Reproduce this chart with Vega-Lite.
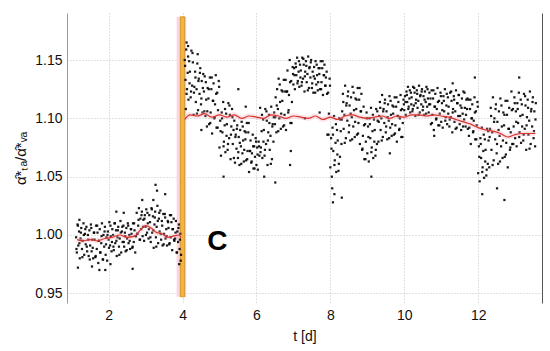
{
"$schema": "https://vega.github.io/schema/vega-lite/v6.json",
"width": 475, "height": 290,
"autosize": {"type": "none"},
"padding": {"left": 67, "top": 13, "right": 8, "bottom": 48},
"background": "white",
"config": {
  "view": {"stroke": null},
  "font": "Liberation Sans",
  "axis": {"labelFont": "Liberation Sans", "titleFont": "Liberation Sans", "labelFontSize": 14, "titleFontSize": 14, "titleFontWeight": "normal", "labelColor": "#111", "titleColor": "#111"}
},
"datasets": {
  "pts": [
{"t":1.12,"v":0.998},{"t":1.14,"v":0.985},{"t":1.16,"v":1.009},{"t":1.18,"v":0.991},{"t":1.20,"v":1.003},{"t":1.22,"v":0.980},{"t":1.24,"v":0.997},{"t":1.26,"v":1.006},{"t":1.28,"v":0.988},{"t":1.30,"v":0.995},{"t":1.32,"v":1.010},{"t":1.34,"v":0.983},{"t":1.36,"v":1.001},{"t":1.38,"v":0.992},{"t":1.40,"v":1.007},{"t":1.42,"v":0.986},{"t":1.44,"v":1.000},{"t":1.46,"v":0.982},{"t":1.48,"v":1.004},
{"t":1.50,"v":0.991},{"t":1.52,"v":1.009},{"t":1.54,"v":0.986},{"t":1.56,"v":0.996},{"t":1.58,"v":0.980},{"t":1.60,"v":1.002},{"t":1.62,"v":0.996},{"t":1.64,"v":0.981},{"t":1.66,"v":1.008},{"t":1.68,"v":0.988},{"t":1.70,"v":1.002},{"t":1.72,"v":0.976},{"t":1.74,"v":0.995},{"t":1.76,"v":1.005},{"t":1.78,"v":0.985},{"t":1.80,"v":0.993},{"t":1.82,"v":1.010},{"t":1.84,"v":0.979},{"t":1.86,"v":1.000},{"t":1.88,"v":0.990},{"t":1.90,"v":1.007},{"t":1.92,"v":0.983},{"t":1.94,"v":0.998},{"t":1.96,"v":0.978},{"t":1.98,"v":1.003},
{"t":2.00,"v":0.996},{"t":2.02,"v":1.011},{"t":2.04,"v":0.991},{"t":2.06,"v":0.999},{"t":2.08,"v":0.986},{"t":2.10,"v":1.005},{"t":2.12,"v":1.000},{"t":2.14,"v":0.987},{"t":2.16,"v":1.010},{"t":2.18,"v":0.993},{"t":2.20,"v":1.004},{"t":2.22,"v":0.982},{"t":2.24,"v":0.998},{"t":2.26,"v":1.007},{"t":2.28,"v":0.990},{"t":2.30,"v":0.997},{"t":2.32,"v":1.012},{"t":2.34,"v":0.985},{"t":2.36,"v":1.003},{"t":2.38,"v":0.994},
{"t":2.40,"v":1.008},{"t":2.42,"v":0.990},{"t":2.44,"v":1.002},{"t":2.46,"v":0.986},{"t":2.48,"v":1.006},{"t":2.50,"v":0.997},{"t":2.52,"v":1.010},{"t":2.54,"v":0.993},{"t":2.56,"v":1.000},{"t":2.58,"v":0.988},{"t":2.60,"v":1.005},{"t":2.62,"v":1.001},{"t":2.64,"v":0.989},{"t":2.66,"v":1.010},{"t":2.68,"v":0.994},{"t":2.70,"v":1.004},{"t":2.72,"v":0.985},{"t":2.74,"v":0.999},
{"t":2.76,"v":1.019},{"t":2.78,"v":1.001},{"t":2.80,"v":1.008},{"t":2.82,"v":1.023},{"t":2.84,"v":0.996},{"t":2.86,"v":1.014},{"t":2.88,"v":1.005},{"t":2.90,"v":1.020},{"t":2.92,"v":0.999},{"t":2.94,"v":1.013},{"t":2.96,"v":0.995},{"t":2.98,"v":1.017},{"t":3.00,"v":1.007},{"t":3.02,"v":1.022},{"t":3.04,"v":1.002},{"t":3.06,"v":1.010},{"t":3.08,"v":0.997},
{"t":3.10,"v":1.017},{"t":3.12,"v":1.011},{"t":3.14,"v":0.994},{"t":3.16,"v":1.023},{"t":3.18,"v":1.002},{"t":3.20,"v":1.016},{"t":3.22,"v":0.989},{"t":3.24,"v":1.009},{"t":3.26,"v":1.020},{"t":3.28,"v":0.998},{"t":3.30,"v":1.007},{"t":3.32,"v":1.025},{"t":3.34,"v":0.993},{"t":3.36,"v":1.014},{"t":3.38,"v":1.003},{"t":3.40,"v":1.021},{"t":3.42,"v":0.996},{"t":3.44,"v":1.012},{"t":3.46,"v":0.991},{"t":3.48,"v":1.018},
{"t":3.50,"v":1.001},{"t":3.52,"v":1.018},{"t":3.54,"v":0.997},{"t":3.56,"v":1.005},{"t":3.58,"v":0.991},{"t":3.60,"v":1.012},{"t":3.62,"v":1.006},{"t":3.64,"v":0.992},{"t":3.66,"v":1.017},{"t":3.68,"v":0.998},{"t":3.70,"v":1.011},{"t":3.72,"v":0.987},{"t":3.74,"v":1.005},{"t":3.76,"v":1.014},{"t":3.78,"v":0.995},
{"t":3.80,"v":0.997},{"t":3.82,"v":1.012},{"t":3.84,"v":0.985},{"t":3.86,"v":1.003},{"t":3.88,"v":0.994},{"t":3.90,"v":1.009},{"t":3.92,"v":0.988},{"t":3.94,"v":1.001},{"t":3.96,"v":0.983},
{"t":1.17,"v":0.972},{"t":1.55,"v":0.973},{"t":1.75,"v":0.970},{"t":2.05,"v":0.975},{"t":2.41,"v":1.019},{"t":2.65,"v":0.971},{"t":3.27,"v":1.043},{"t":3.31,"v":1.038},{"t":3.53,"v":1.035},{"t":3.21,"v":1.030},{"t":1.21,"v":1.013},{"t":2.91,"v":1.030},{"t":3.91,"v":0.975},{"t":3.95,"v":0.978},{"t":2.21,"v":1.020},{"t":1.91,"v":0.970},
{"t":1.13,"v":0.988},{"t":1.17,"v":1.008},{"t":1.21,"v":0.993},{"t":1.25,"v":1.002},{"t":1.29,"v":0.981},{"t":1.33,"v":1.000},{"t":1.37,"v":1.005},{"t":1.41,"v":0.990},{"t":1.45,"v":0.996},
{"t":1.49,"v":0.979},{"t":1.53,"v":1.006},{"t":1.57,"v":0.989},{"t":1.61,"v":1.002},{"t":1.65,"v":0.982},{"t":1.69,"v":1.008},{"t":1.73,"v":0.995},{"t":1.77,"v":0.985},{"t":1.81,"v":0.999},{"t":1.85,"v":0.979},{"t":1.89,"v":1.003},{"t":1.93,"v":0.992},{"t":1.97,"v":1.000},
{"t":2.01,"v":0.989},{"t":2.05,"v":1.008},{"t":2.09,"v":0.994},{"t":2.13,"v":0.990},{"t":2.17,"v":1.010},{"t":2.21,"v":0.995},{"t":2.25,"v":1.004},{"t":2.29,"v":0.983},{"t":2.33,"v":1.002},{"t":2.37,"v":1.007},
{"t":2.41,"v":0.994},{"t":2.45,"v":0.999},{"t":2.49,"v":0.987},{"t":2.53,"v":1.008},{"t":2.57,"v":0.995},{"t":2.61,"v":1.005},{"t":2.65,"v":0.990},{"t":2.69,"v":1.010},{"t":2.73,"v":0.999},
{"t":2.77,"v":1.001},{"t":2.81,"v":1.013},{"t":2.85,"v":0.996},{"t":2.89,"v":1.017},{"t":2.93,"v":1.007},{"t":2.97,"v":1.014},{"t":3.01,"v":1.000},{"t":3.05,"v":1.019},{"t":3.09,"v":1.005},
{"t":3.13,"v":0.998},{"t":3.17,"v":1.022},{"t":3.21,"v":1.004},{"t":3.25,"v":1.015},{"t":3.29,"v":0.990},{"t":3.33,"v":1.012},{"t":3.37,"v":1.019},{"t":3.41,"v":1.001},{"t":3.45,"v":1.008},{"t":3.49,"v":0.992},
{"t":3.53,"v":1.015},{"t":3.57,"v":0.999},{"t":3.61,"v":1.011},{"t":3.65,"v":0.993},{"t":3.69,"v":1.017},{"t":3.73,"v":1.005},{"t":3.77,"v":0.996},
{"t":3.81,"v":1.002},{"t":3.85,"v":0.985},{"t":3.89,"v":1.006},{"t":3.93,"v":0.996},
{"t":4.06,"v":1.150},{"t":4.08,"v":1.133},{"t":4.10,"v":1.159},{"t":4.12,"v":1.125},{"t":4.14,"v":1.139},{"t":4.16,"v":1.116},{"t":4.18,"v":1.149},{"t":4.20,"v":1.140},{"t":4.22,"v":1.118},{"t":4.24,"v":1.158},{"t":4.26,"v":1.128},{"t":4.28,"v":1.148},
{"t":4.30,"v":1.103},{"t":4.32,"v":1.127},{"t":4.34,"v":1.140},{"t":4.36,"v":1.114},{"t":4.38,"v":1.125},{"t":4.40,"v":1.147},{"t":4.42,"v":1.107},{"t":4.44,"v":1.134},{"t":4.46,"v":1.121},{"t":4.48,"v":1.143},{"t":4.50,"v":1.112},{"t":4.52,"v":1.132},{"t":4.54,"v":1.105},{"t":4.56,"v":1.138},{"t":4.58,"v":1.123},
{"t":4.60,"v":1.136},{"t":4.62,"v":1.102},{"t":4.64,"v":1.116},{"t":4.66,"v":1.093},{"t":4.68,"v":1.126},{"t":4.70,"v":1.117},{"t":4.72,"v":1.095},{"t":4.74,"v":1.135},{"t":4.76,"v":1.105},{"t":4.78,"v":1.125},{"t":4.80,"v":1.087},{"t":4.82,"v":1.115},{"t":4.84,"v":1.130},{"t":4.86,"v":1.100},{"t":4.88,"v":1.112},{"t":4.90,"v":1.137},{"t":4.92,"v":1.092},{"t":4.94,"v":1.122},{"t":4.96,"v":1.107},{"t":4.98,"v":1.132},
{"t":5.00,"v":1.075},{"t":5.02,"v":1.098},{"t":5.04,"v":1.068},{"t":5.06,"v":1.105},{"t":5.08,"v":1.088},{"t":5.10,"v":1.114},{"t":5.12,"v":1.080},{"t":5.14,"v":1.094},{"t":5.16,"v":1.071},{"t":5.18,"v":1.104},{"t":5.20,"v":1.095},{"t":5.22,"v":1.073},{"t":5.24,"v":1.113},{"t":5.26,"v":1.083},{"t":5.28,"v":1.103},{"t":5.30,"v":1.065},{"t":5.32,"v":1.093},{"t":5.34,"v":1.108},{"t":5.36,"v":1.078},{"t":5.38,"v":1.090},
{"t":5.40,"v":1.098},{"t":5.42,"v":1.062},{"t":5.44,"v":1.086},{"t":5.46,"v":1.074},{"t":5.48,"v":1.094},{"t":5.50,"v":1.066},{"t":5.52,"v":1.084},{"t":5.54,"v":1.060},{"t":5.56,"v":1.090},{"t":5.58,"v":1.076},{"t":5.60,"v":1.097},{"t":5.62,"v":1.070},{"t":5.64,"v":1.081},{"t":5.66,"v":1.063},{"t":5.68,"v":1.089},{"t":5.70,"v":1.082},{"t":5.72,"v":1.064},{"t":5.74,"v":1.096},{"t":5.76,"v":1.072},{"t":5.78,"v":1.088},
{"t":5.80,"v":1.054},{"t":5.82,"v":1.072},{"t":5.84,"v":1.081},{"t":5.86,"v":1.062},{"t":5.88,"v":1.070},{"t":5.90,"v":1.086},{"t":5.92,"v":1.057},{"t":5.94,"v":1.076},{"t":5.96,"v":1.067},{"t":5.98,"v":1.083},{"t":6.00,"v":1.060},{"t":6.02,"v":1.075},{"t":6.04,"v":1.056},{"t":6.06,"v":1.080},{"t":6.08,"v":1.068},
{"t":6.10,"v":1.109},{"t":6.12,"v":1.075},{"t":6.14,"v":1.089},{"t":6.16,"v":1.066},{"t":6.18,"v":1.099},{"t":6.20,"v":1.090},{"t":6.22,"v":1.068},{"t":6.24,"v":1.108},{"t":6.26,"v":1.078},{"t":6.28,"v":1.098},{"t":6.30,"v":1.060},{"t":6.32,"v":1.088},{"t":6.34,"v":1.103},{"t":6.36,"v":1.073},{"t":6.38,"v":1.085},{"t":6.40,"v":1.110},{"t":6.42,"v":1.065},{"t":6.44,"v":1.095},{"t":6.46,"v":1.080},{"t":6.48,"v":1.105},
{"t":6.50,"v":1.095},{"t":6.52,"v":1.118},{"t":6.54,"v":1.088},{"t":6.56,"v":1.125},{"t":6.58,"v":1.108},{"t":6.60,"v":1.134},{"t":6.62,"v":1.100},{"t":6.64,"v":1.114},{"t":6.66,"v":1.091},{"t":6.68,"v":1.124},{"t":6.70,"v":1.115},{"t":6.72,"v":1.093},{"t":6.74,"v":1.133},{"t":6.76,"v":1.103},{"t":6.78,"v":1.123},
{"t":6.80,"v":1.090},{"t":6.82,"v":1.123},{"t":6.84,"v":1.141},{"t":6.86,"v":1.105},{"t":6.88,"v":1.120},{"t":6.90,"v":1.150},{"t":6.92,"v":1.096},{"t":6.94,"v":1.132},{"t":6.96,"v":1.114},{"t":6.98,"v":1.144},
{"t":7.00,"v":1.129},{"t":7.02,"v":1.143},{"t":7.04,"v":1.125},{"t":7.06,"v":1.147},{"t":7.08,"v":1.137},{"t":7.10,"v":1.152},{"t":7.12,"v":1.132},{"t":7.14,"v":1.140},{"t":7.16,"v":1.127},{"t":7.18,"v":1.146},{"t":7.20,"v":1.141},{"t":7.22,"v":1.128},{"t":7.24,"v":1.152},{"t":7.26,"v":1.134},{"t":7.28,"v":1.146},{"t":7.30,"v":1.123},{"t":7.32,"v":1.140},{"t":7.34,"v":1.149},{"t":7.36,"v":1.131},{"t":7.38,"v":1.138},{"t":7.40,"v":1.153},{"t":7.42,"v":1.126},{"t":7.44,"v":1.144},{"t":7.46,"v":1.135},{"t":7.48,"v":1.150},
{"t":7.50,"v":1.126},{"t":7.52,"v":1.140},{"t":7.54,"v":1.122},{"t":7.56,"v":1.144},{"t":7.58,"v":1.134},{"t":7.60,"v":1.149},{"t":7.62,"v":1.129},{"t":7.64,"v":1.137},{"t":7.66,"v":1.124},{"t":7.68,"v":1.143},{"t":7.70,"v":1.138},{"t":7.72,"v":1.125},{"t":7.74,"v":1.149},{"t":7.76,"v":1.131},{"t":7.78,"v":1.143},{"t":7.80,"v":1.120},{"t":7.82,"v":1.137},{"t":7.84,"v":1.146},{"t":7.86,"v":1.128},{"t":7.88,"v":1.135},
{"t":7.90,"v":1.140},{"t":7.92,"v":1.086},{"t":7.94,"v":1.122},{"t":7.96,"v":1.104},{"t":7.98,"v":1.134},
{"t":8.00,"v":1.058},{"t":8.02,"v":1.083},{"t":8.04,"v":1.050},{"t":8.06,"v":1.092},{"t":8.08,"v":1.072},{"t":8.10,"v":1.102},{"t":8.12,"v":1.064},{"t":8.14,"v":1.079},{"t":8.16,"v":1.054},{"t":8.18,"v":1.090},{"t":8.20,"v":1.081},{"t":8.22,"v":1.055},{"t":8.24,"v":1.100},{"t":8.26,"v":1.067},{"t":8.28,"v":1.089},
{"t":8.30,"v":1.078},{"t":8.32,"v":1.106},{"t":8.34,"v":1.121},{"t":8.36,"v":1.091},{"t":8.38,"v":1.103},{"t":8.40,"v":1.128},{"t":8.42,"v":1.083},{"t":8.44,"v":1.113},{"t":8.46,"v":1.098},{"t":8.48,"v":1.123},{"t":8.50,"v":1.088},{"t":8.52,"v":1.111},{"t":8.54,"v":1.081},{"t":8.56,"v":1.118},{"t":8.58,"v":1.101},{"t":8.60,"v":1.127},{"t":8.62,"v":1.093},{"t":8.64,"v":1.107},{"t":8.66,"v":1.084},{"t":8.68,"v":1.117},{"t":8.70,"v":1.108},{"t":8.72,"v":1.086},{"t":8.74,"v":1.126},{"t":8.76,"v":1.096},{"t":8.78,"v":1.116},{"t":8.80,"v":1.078},{"t":8.82,"v":1.106},{"t":8.84,"v":1.121},
{"t":8.86,"v":1.073},{"t":8.88,"v":1.085},{"t":8.90,"v":1.110},{"t":8.92,"v":1.065},{"t":8.94,"v":1.095},{"t":8.96,"v":1.080},{"t":8.98,"v":1.105},{"t":9.00,"v":1.070},{"t":9.02,"v":1.093},{"t":9.04,"v":1.063},{"t":9.06,"v":1.100},{"t":9.08,"v":1.083},{"t":9.10,"v":1.109},{"t":9.12,"v":1.075},{"t":9.14,"v":1.089},{"t":9.16,"v":1.066},{"t":9.18,"v":1.099},{"t":9.20,"v":1.090},{"t":9.22,"v":1.068},{"t":9.24,"v":1.108},{"t":9.26,"v":1.078},{"t":9.28,"v":1.098},
{"t":9.30,"v":1.080},{"t":9.32,"v":1.102},{"t":9.34,"v":1.114},{"t":9.36,"v":1.090},{"t":9.38,"v":1.100},{"t":9.40,"v":1.120},{"t":9.42,"v":1.084},{"t":9.44,"v":1.108},{"t":9.46,"v":1.096},{"t":9.48,"v":1.116},{"t":9.50,"v":1.088},{"t":9.52,"v":1.106},{"t":9.54,"v":1.082},{"t":9.56,"v":1.112},{"t":9.58,"v":1.098},{"t":9.60,"v":1.119},{"t":9.62,"v":1.092},{"t":9.64,"v":1.103},{"t":9.66,"v":1.085},{"t":9.68,"v":1.111},{"t":9.70,"v":1.104},{"t":9.72,"v":1.086},{"t":9.74,"v":1.118},{"t":9.76,"v":1.094},{"t":9.78,"v":1.110},{"t":9.80,"v":1.080},{"t":9.82,"v":1.102},{"t":9.84,"v":1.114},{"t":9.86,"v":1.090},{"t":9.88,"v":1.100},{"t":9.90,"v":1.120},{"t":9.92,"v":1.084},{"t":9.94,"v":1.108},{"t":9.96,"v":1.096},{"t":9.98,"v":1.116},
{"t":10.00,"v":1.107},{"t":10.02,"v":1.119},{"t":10.04,"v":1.103},{"t":10.06,"v":1.123},{"t":10.08,"v":1.114},{"t":10.10,"v":1.127},{"t":10.12,"v":1.110},{"t":10.14,"v":1.117},{"t":10.16,"v":1.105},{"t":10.18,"v":1.122},{"t":10.20,"v":1.118},{"t":10.22,"v":1.106},{"t":10.24,"v":1.127},{"t":10.26,"v":1.111},{"t":10.28,"v":1.122},{"t":10.30,"v":1.102},{"t":10.32,"v":1.116},{"t":10.34,"v":1.124},{"t":10.36,"v":1.109},{"t":10.38,"v":1.115},{"t":10.40,"v":1.128},{"t":10.42,"v":1.105},{"t":10.44,"v":1.120},{"t":10.46,"v":1.112},{"t":10.48,"v":1.125},{"t":10.50,"v":1.107},{"t":10.52,"v":1.119},{"t":10.54,"v":1.103},{"t":10.56,"v":1.123},{"t":10.58,"v":1.114},{"t":10.60,"v":1.127},{"t":10.62,"v":1.110},{"t":10.64,"v":1.117},{"t":10.66,"v":1.105},{"t":10.68,"v":1.122},
{"t":10.70,"v":1.112},{"t":10.72,"v":1.095},{"t":10.74,"v":1.124},{"t":10.76,"v":1.103},{"t":10.78,"v":1.117},{"t":10.80,"v":1.090},{"t":10.82,"v":1.110},{"t":10.84,"v":1.121},{"t":10.86,"v":1.099},{"t":10.88,"v":1.108},{"t":10.90,"v":1.126},{"t":10.92,"v":1.094},{"t":10.94,"v":1.115},{"t":10.96,"v":1.104},{"t":10.98,"v":1.122},{"t":11.00,"v":1.097},{"t":11.02,"v":1.113},{"t":11.04,"v":1.092},{"t":11.06,"v":1.119},{"t":11.08,"v":1.106},{"t":11.10,"v":1.125},{"t":11.12,"v":1.101},{"t":11.14,"v":1.111},{"t":11.16,"v":1.095},{"t":11.18,"v":1.118},
{"t":11.20,"v":1.110},{"t":11.22,"v":1.093},{"t":11.24,"v":1.122},{"t":11.26,"v":1.101},{"t":11.28,"v":1.115},{"t":11.30,"v":1.088},{"t":11.32,"v":1.108},{"t":11.34,"v":1.119},{"t":11.36,"v":1.097},{"t":11.38,"v":1.106},{"t":11.40,"v":1.124},{"t":11.42,"v":1.092},{"t":11.44,"v":1.113},{"t":11.46,"v":1.102},{"t":11.48,"v":1.120},{"t":11.50,"v":1.095},{"t":11.52,"v":1.111},{"t":11.54,"v":1.090},{"t":11.56,"v":1.117},{"t":11.58,"v":1.104},{"t":11.60,"v":1.123},{"t":11.62,"v":1.099},{"t":11.64,"v":1.109},{"t":11.66,"v":1.093},{"t":11.68,"v":1.116},{"t":11.70,"v":1.108},{"t":11.72,"v":1.091},
{"t":11.74,"v":1.116},{"t":11.76,"v":1.092},{"t":11.78,"v":1.108},{"t":11.80,"v":1.078},{"t":11.82,"v":1.100},{"t":11.84,"v":1.112},{"t":11.86,"v":1.088},{"t":11.88,"v":1.098},{"t":11.90,"v":1.118},{"t":11.92,"v":1.082},{"t":11.94,"v":1.106},{"t":11.96,"v":1.094},{"t":11.98,"v":1.114},
{"t":12.00,"v":1.053},{"t":12.02,"v":1.076},{"t":12.04,"v":1.046},{"t":12.06,"v":1.083},{"t":12.08,"v":1.066},{"t":12.10,"v":1.092},{"t":12.12,"v":1.058},{"t":12.14,"v":1.072},{"t":12.16,"v":1.049},{"t":12.18,"v":1.082},{"t":12.20,"v":1.073},{"t":12.22,"v":1.051},{"t":12.24,"v":1.091},{"t":12.26,"v":1.061},{"t":12.28,"v":1.081},
{"t":12.30,"v":1.058},{"t":12.32,"v":1.091},{"t":12.34,"v":1.109},{"t":12.36,"v":1.073},{"t":12.38,"v":1.088},{"t":12.40,"v":1.118},{"t":12.42,"v":1.064},{"t":12.44,"v":1.100},{"t":12.46,"v":1.082},{"t":12.48,"v":1.112},{"t":12.50,"v":1.070},{"t":12.52,"v":1.097},{"t":12.54,"v":1.061},{"t":12.56,"v":1.106},{"t":12.58,"v":1.085},{"t":12.60,"v":1.117},{"t":12.62,"v":1.076},{"t":12.64,"v":1.093},{"t":12.66,"v":1.066},{"t":12.68,"v":1.105},{"t":12.70,"v":1.094},{"t":12.72,"v":1.067},{"t":12.74,"v":1.115},{"t":12.76,"v":1.079},{"t":12.78,"v":1.103},{"t":12.80,"v":1.058},{"t":12.82,"v":1.091},{"t":12.84,"v":1.109},{"t":12.86,"v":1.073},{"t":12.88,"v":1.088},
{"t":12.90,"v":1.123},{"t":12.92,"v":1.078},{"t":12.94,"v":1.108},{"t":12.96,"v":1.093},{"t":12.98,"v":1.118},{"t":13.00,"v":1.083},{"t":13.02,"v":1.106},{"t":13.04,"v":1.076},{"t":13.06,"v":1.113},{"t":13.08,"v":1.096},{"t":13.10,"v":1.122},{"t":13.12,"v":1.088},{"t":13.14,"v":1.102},{"t":13.16,"v":1.079},{"t":13.18,"v":1.112},{"t":13.20,"v":1.103},{"t":13.22,"v":1.081},{"t":13.24,"v":1.121},{"t":13.26,"v":1.091},{"t":13.28,"v":1.111},{"t":13.30,"v":1.073},{"t":13.32,"v":1.101},{"t":13.34,"v":1.116},{"t":13.36,"v":1.086},{"t":13.38,"v":1.098},{"t":13.40,"v":1.123},{"t":13.42,"v":1.078},{"t":13.44,"v":1.108},{"t":13.46,"v":1.093},{"t":13.48,"v":1.118},{"t":13.50,"v":1.083},{"t":13.52,"v":1.106},{"t":13.54,"v":1.076},{"t":13.56,"v":1.113},
{"t":4.11,"v":1.165},{"t":4.15,"v":1.162},{"t":4.09,"v":1.108},{"t":5.11,"v":1.050},{"t":5.51,"v":1.125},{"t":6.51,"v":1.045},{"t":7.71,"v":1.105},{"t":8.05,"v":1.040},{"t":8.11,"v":1.035},{"t":8.31,"v":1.032},{"t":9.61,"v":1.070},{"t":11.31,"v":1.130},{"t":11.91,"v":1.135},{"t":12.11,"v":1.035},{"t":12.51,"v":1.040},{"t":12.71,"v":1.030},{"t":13.11,"v":1.135},{"t":6.21,"v":1.050},{"t":5.71,"v":1.110},{"t":9.11,"v":1.050},{"t":10.81,"v":1.085},{"t":7.31,"v":1.100},{"t":4.51,"v":1.090},{"t":4.41,"v":1.155},{"t":6.91,"v":1.060},{"t":6.93,"v":1.072},{"t":8.07,"v":1.028},
{"t":4.07,"v":1.145},{"t":4.11,"v":1.121},{"t":4.15,"v":1.153},{"t":4.19,"v":1.130},{"t":4.23,"v":1.123},{"t":4.27,"v":1.156},
{"t":4.31,"v":1.122},{"t":4.35,"v":1.135},{"t":4.39,"v":1.104},{"t":4.43,"v":1.132},{"t":4.47,"v":1.139},{"t":4.51,"v":1.117},{"t":4.55,"v":1.126},{"t":4.59,"v":1.106},
{"t":4.63,"v":1.131},{"t":4.67,"v":1.106},{"t":4.71,"v":1.125},{"t":4.75,"v":1.096},{"t":4.79,"v":1.135},{"t":4.83,"v":1.115},{"t":4.87,"v":1.101},{"t":4.91,"v":1.121},{"t":4.95,"v":1.092},{"t":4.99,"v":1.127},
{"t":5.03,"v":1.089},{"t":5.07,"v":1.100},{"t":5.11,"v":1.076},{"t":5.15,"v":1.108},{"t":5.19,"v":1.085},{"t":5.23,"v":1.078},{"t":5.27,"v":1.111},{"t":5.31,"v":1.086},{"t":5.35,"v":1.101},{"t":5.39,"v":1.066},
{"t":5.43,"v":1.084},{"t":5.47,"v":1.091},{"t":5.51,"v":1.071},{"t":5.55,"v":1.079},{"t":5.59,"v":1.061},{"t":5.63,"v":1.093},{"t":5.67,"v":1.073},{"t":5.71,"v":1.088},{"t":5.75,"v":1.065},{"t":5.79,"v":1.096},
{"t":5.83,"v":1.072},{"t":5.87,"v":1.063},{"t":5.91,"v":1.076},{"t":5.95,"v":1.057},{"t":5.99,"v":1.080},{"t":6.03,"v":1.069},{"t":6.07,"v":1.076},
{"t":6.11,"v":1.071},{"t":6.15,"v":1.103},{"t":6.19,"v":1.080},{"t":6.23,"v":1.073},{"t":6.27,"v":1.106},{"t":6.31,"v":1.081},{"t":6.35,"v":1.096},{"t":6.39,"v":1.061},{"t":6.43,"v":1.093},{"t":6.47,"v":1.101},
{"t":6.51,"v":1.101},{"t":6.55,"v":1.111},{"t":6.59,"v":1.089},{"t":6.63,"v":1.129},{"t":6.67,"v":1.104},{"t":6.71,"v":1.123},{"t":6.75,"v":1.094},{"t":6.79,"v":1.133},
{"t":6.83,"v":1.123},{"t":6.87,"v":1.107},{"t":6.91,"v":1.131},{"t":6.95,"v":1.096},{"t":6.99,"v":1.138},
{"t":7.03,"v":1.137},{"t":7.07,"v":1.144},{"t":7.11,"v":1.130},{"t":7.15,"v":1.149},{"t":7.19,"v":1.135},{"t":7.23,"v":1.131},{"t":7.27,"v":1.151},{"t":7.31,"v":1.136},{"t":7.35,"v":1.145},{"t":7.39,"v":1.124},{"t":7.43,"v":1.143},{"t":7.47,"v":1.148},
{"t":7.51,"v":1.130},{"t":7.55,"v":1.136},{"t":7.59,"v":1.122},{"t":7.63,"v":1.146},{"t":7.67,"v":1.131},{"t":7.71,"v":1.143},{"t":7.75,"v":1.125},{"t":7.79,"v":1.149},{"t":7.83,"v":1.137},{"t":7.87,"v":1.128},
{"t":7.91,"v":1.121},{"t":7.95,"v":1.086},{"t":7.99,"v":1.128},
{"t":8.03,"v":1.074},{"t":8.07,"v":1.086},{"t":8.11,"v":1.060},{"t":8.15,"v":1.095},{"t":8.19,"v":1.069},{"t":8.23,"v":1.061},{"t":8.27,"v":1.099},
{"t":8.31,"v":1.099},{"t":8.35,"v":1.114},{"t":8.39,"v":1.079},{"t":8.43,"v":1.111},{"t":8.47,"v":1.119},{"t":8.51,"v":1.094},{"t":8.55,"v":1.104},{"t":8.59,"v":1.082},{"t":8.63,"v":1.122},{"t":8.67,"v":1.097},{"t":8.71,"v":1.116},{"t":8.75,"v":1.087},{"t":8.79,"v":1.126},{"t":8.83,"v":1.106},
{"t":8.87,"v":1.074},{"t":8.91,"v":1.094},{"t":8.95,"v":1.065},{"t":8.99,"v":1.100},{"t":9.03,"v":1.084},{"t":9.07,"v":1.095},{"t":9.11,"v":1.071},{"t":9.15,"v":1.103},{"t":9.19,"v":1.080},{"t":9.23,"v":1.073},{"t":9.27,"v":1.106},
{"t":9.31,"v":1.097},{"t":9.35,"v":1.109},{"t":9.39,"v":1.081},{"t":9.43,"v":1.106},{"t":9.47,"v":1.113},{"t":9.51,"v":1.093},{"t":9.55,"v":1.101},{"t":9.59,"v":1.083},{"t":9.63,"v":1.115},{"t":9.67,"v":1.095},{"t":9.71,"v":1.110},{"t":9.75,"v":1.087},{"t":9.79,"v":1.118},{"t":9.83,"v":1.102},{"t":9.87,"v":1.091},{"t":9.91,"v":1.107},{"t":9.95,"v":1.084},{"t":9.99,"v":1.112},
{"t":10.03,"v":1.114},{"t":10.07,"v":1.120},{"t":10.11,"v":1.108},{"t":10.15,"v":1.124},{"t":10.19,"v":1.112},{"t":10.23,"v":1.108},{"t":10.27,"v":1.126},{"t":10.31,"v":1.113},{"t":10.35,"v":1.121},{"t":10.39,"v":1.103},{"t":10.43,"v":1.119},{"t":10.47,"v":1.123},{"t":10.51,"v":1.110},{"t":10.55,"v":1.116},{"t":10.59,"v":1.104},{"t":10.63,"v":1.125},{"t":10.67,"v":1.112},
{"t":10.71,"v":1.117},{"t":10.75,"v":1.096},{"t":10.79,"v":1.124},{"t":10.83,"v":1.110},{"t":10.87,"v":1.100},{"t":10.91,"v":1.114},{"t":10.95,"v":1.094},{"t":10.99,"v":1.119},{"t":11.03,"v":1.107},{"t":11.07,"v":1.115},{"t":11.11,"v":1.098},{"t":11.15,"v":1.121},{"t":11.19,"v":1.104},{"t":11.23,"v":1.099},{"t":11.27,"v":1.123},{"t":11.31,"v":1.105},{"t":11.35,"v":1.116},{"t":11.39,"v":1.091},{"t":11.43,"v":1.113},{"t":11.47,"v":1.120},{"t":11.51,"v":1.102},{"t":11.55,"v":1.109},{"t":11.59,"v":1.093},{"t":11.63,"v":1.122},{"t":11.67,"v":1.103},{"t":11.71,"v":1.117},
{"t":11.75,"v":1.085},{"t":11.79,"v":1.116},{"t":11.83,"v":1.100},{"t":11.87,"v":1.089},{"t":11.91,"v":1.105},{"t":11.95,"v":1.082},{"t":11.99,"v":1.110},
{"t":12.03,"v":1.067},{"t":12.07,"v":1.078},{"t":12.11,"v":1.054},{"t":12.15,"v":1.086},{"t":12.19,"v":1.063},{"t":12.23,"v":1.056},{"t":12.27,"v":1.089},
{"t":12.31,"v":1.084},{"t":12.35,"v":1.102},{"t":12.39,"v":1.060},{"t":12.43,"v":1.097},{"t":12.47,"v":1.108},{"t":12.51,"v":1.078},{"t":12.55,"v":1.090},{"t":12.59,"v":1.063},{"t":12.63,"v":1.111},{"t":12.67,"v":1.081},{"t":12.71,"v":1.103},{"t":12.75,"v":1.069},{"t":12.79,"v":1.115},{"t":12.83,"v":1.091},{"t":12.87,"v":1.075},
{"t":12.91,"v":1.107},{"t":12.95,"v":1.078},{"t":12.99,"v":1.113},{"t":13.03,"v":1.097},{"t":13.07,"v":1.108},{"t":13.11,"v":1.084},{"t":13.15,"v":1.116},{"t":13.19,"v":1.093},{"t":13.23,"v":1.086},{"t":13.27,"v":1.119},{"t":13.31,"v":1.094},{"t":13.35,"v":1.109},{"t":13.39,"v":1.074},{"t":13.43,"v":1.106},{"t":13.47,"v":1.114},{"t":13.51,"v":1.089},{"t":13.55,"v":1.099}
  ],
  "fit": [
{"seg":"a","t":1.15,"v":0.996},{"seg":"a","t":1.3,"v":0.995},{"seg":"a","t":1.5,"v":0.996},{"seg":"a","t":1.7,"v":0.995},{"seg":"a","t":1.9,"v":0.997},{"seg":"a","t":2.1,"v":0.998},{"seg":"a","t":2.3,"v":1.000},{"seg":"a","t":2.5,"v":0.998},{"seg":"a","t":2.7,"v":0.999},{"seg":"a","t":2.85,"v":1.004},{"seg":"a","t":3.0,"v":1.008},{"seg":"a","t":3.15,"v":1.006},{"seg":"a","t":3.3,"v":1.002},{"seg":"a","t":3.45,"v":1.001},{"seg":"a","t":3.6,"v":0.998},{"seg":"a","t":3.75,"v":0.999},{"seg":"a","t":3.9,"v":1.000},{"seg":"a","t":3.96,"v":0.998},
{"seg":"b","t":4.06,"v":1.099},{"seg":"b","t":4.2,"v":1.103},{"seg":"b","t":4.4,"v":1.102},{"seg":"b","t":4.6,"v":1.104},{"seg":"b","t":4.8,"v":1.101},{"seg":"b","t":5.0,"v":1.103},{"seg":"b","t":5.2,"v":1.101},{"seg":"b","t":5.4,"v":1.103},{"seg":"b","t":5.6,"v":1.100},{"seg":"b","t":5.8,"v":1.102},{"seg":"b","t":6.0,"v":1.101},{"seg":"b","t":6.2,"v":1.100},{"seg":"b","t":6.4,"v":1.103},{"seg":"b","t":6.6,"v":1.102},{"seg":"b","t":6.8,"v":1.100},{"seg":"b","t":7.0,"v":1.102},{"seg":"b","t":7.2,"v":1.101},{"seg":"b","t":7.4,"v":1.100},{"seg":"b","t":7.6,"v":1.102},{"seg":"b","t":7.8,"v":1.099},{"seg":"b","t":8.0,"v":1.101},{"seg":"b","t":8.2,"v":1.099},{"seg":"b","t":8.4,"v":1.102},{"seg":"b","t":8.6,"v":1.103},{"seg":"b","t":8.8,"v":1.101},{"seg":"b","t":9.0,"v":1.100},{"seg":"b","t":9.2,"v":1.101},{"seg":"b","t":9.4,"v":1.102},{"seg":"b","t":9.6,"v":1.100},{"seg":"b","t":9.8,"v":1.102},{"seg":"b","t":10.0,"v":1.101},{"seg":"b","t":10.2,"v":1.103},{"seg":"b","t":10.4,"v":1.103},{"seg":"b","t":10.6,"v":1.102},{"seg":"b","t":10.8,"v":1.103},{"seg":"b","t":11.0,"v":1.102},{"seg":"b","t":11.2,"v":1.101},{"seg":"b","t":11.4,"v":1.099},{"seg":"b","t":11.6,"v":1.097},{"seg":"b","t":11.8,"v":1.095},{"seg":"b","t":12.0,"v":1.092},{"seg":"b","t":12.2,"v":1.090},{"seg":"b","t":12.4,"v":1.089},{"seg":"b","t":12.6,"v":1.087},{"seg":"b","t":12.8,"v":1.084},{"seg":"b","t":13.0,"v":1.086},{"seg":"b","t":13.2,"v":1.087},{"seg":"b","t":13.4,"v":1.087},{"seg":"b","t":13.55,"v":1.087}
  ]
},
"layer": [
  {
    "data": {"values": [{"t0": 3.84, "t1": 4.10, "y0": 0.947, "y1": 1.187}]},
    "mark": {"type": "rect", "color": "#fbd6de"},
    "encoding": {
      "x": {"field": "t0", "type": "quantitative", "scale": {"domain": [0.874, 13.727], "nice": false, "zero": false},
        "axis": {"title": "t [d]", "values": [2, 4, 6, 8, 10, 12], "domain": false, "ticks": false, "grid": true, "gridColor": "#c4c4c4", "gridDash": [1, 2], "labelPadding": 5, "titlePadding": 7}},
      "x2": {"field": "t1"},
      "y": {"field": "y0", "type": "quantitative", "scale": {"domain": [0.9417, 1.1903], "nice": false, "zero": false}, "axis": null},
      "y2": {"field": "y1"}
    }
  },
  {
    "data": {"values": [{"t0": 3.94, "t1": 4.06, "y0": 0.947, "y1": 1.187}]},
    "mark": {"type": "rect", "fill": "#f2b53c", "stroke": "#c98d22", "strokeWidth": 0.8},
    "encoding": {
      "x": {"field": "t0", "type": "quantitative", "scale": {"domain": [0.874, 13.727], "nice": false, "zero": false},
        "axis": {"title": "t [d]", "values": [2, 4, 6, 8, 10, 12], "domain": false, "ticks": false, "grid": true, "gridColor": "#c4c4c4", "gridDash": [1, 2], "labelPadding": 5, "titlePadding": 7}},
      "x2": {"field": "t1"},
      "y": {"field": "y0", "type": "quantitative", "scale": {"domain": [0.9417, 1.1903], "nice": false, "zero": false}, "axis": null},
      "y2": {"field": "y1"}
    }
  },
  {
    "data": {"name": "pts"},
    "mark": {"type": "square", "size": 5, "color": "#000", "opacity": 0.9},
    "encoding": {
      "x": {"field": "t", "type": "quantitative", "scale": {"domain": [0.874, 13.727], "nice": false, "zero": false},
        "axis": {"title": "t [d]", "values": [2, 4, 6, 8, 10, 12], "domain": false, "ticks": false, "grid": true, "gridColor": "#c4c4c4", "gridDash": [1, 2], "labelPadding": 5, "titlePadding": 7}},
      "y": {"field": "v", "type": "quantitative", "scale": {"domain": [0.9417, 1.1903], "nice": false, "zero": false},
        "axis": {"title": "α̂*ₜₐ/α̂*ᵥₐ", "titleFontSize": 15, "values": [0.95, 1.0, 1.05, 1.1, 1.15], "format": ".2f", "domain": true, "domainColor": "#9a9a9a", "ticks": false, "grid": true, "gridColor": "#c4c4c4", "gridDash": [1, 2], "labelPadding": 5, "titlePadding": 6}}
    }
  },
  {
    "data": {"name": "fit"},
    "mark": {"type": "line", "color": "#f5a3b5", "strokeWidth": 5, "opacity": 0.3, "interpolate": "monotone"},
    "encoding": {
      "x": {"field": "t", "type": "quantitative", "scale": {"domain": [0.874, 13.727], "nice": false, "zero": false},
        "axis": {"title": "t [d]", "values": [2, 4, 6, 8, 10, 12], "domain": false, "ticks": false, "grid": true, "gridColor": "#c4c4c4", "gridDash": [1, 2], "labelPadding": 5, "titlePadding": 7}},
      "y": {"field": "v", "type": "quantitative", "scale": {"domain": [0.9417, 1.1903], "nice": false, "zero": false}, "axis": null},
      "detail": {"field": "seg"}
    }
  },
  {
    "data": {"name": "fit"},
    "mark": {"type": "line", "color": "#d8352a", "strokeWidth": 1.2, "interpolate": "monotone"},
    "encoding": {
      "x": {"field": "t", "type": "quantitative", "scale": {"domain": [0.874, 13.727], "nice": false, "zero": false},
        "axis": {"title": "t [d]", "values": [2, 4, 6, 8, 10, 12], "domain": false, "ticks": false, "grid": true, "gridColor": "#c4c4c4", "gridDash": [1, 2], "labelPadding": 5, "titlePadding": 7}},
      "y": {"field": "v", "type": "quantitative", "scale": {"domain": [0.9417, 1.1903], "nice": false, "zero": false},
        "axis": {"orient": "right", "title": null, "labels": false, "ticks": false, "grid": false, "domain": true, "domainColor": "#555"}},
      "detail": {"field": "seg"}
    }
  },
  {
    "data": {"values": [{"t": 4.94, "v": 0.994, "label": "C"}]},
    "mark": {"type": "text", "font": "Liberation Sans", "fontWeight": "bold", "fontSize": 28, "baseline": "middle", "align": "center", "color": "#000"},
    "encoding": {
      "x": {"field": "t", "type": "quantitative", "scale": {"domain": [0.874, 13.727], "nice": false, "zero": false},
        "axis": {"title": "t [d]", "values": [2, 4, 6, 8, 10, 12], "domain": false, "ticks": false, "grid": true, "gridColor": "#c4c4c4", "gridDash": [1, 2], "labelPadding": 5, "titlePadding": 7}},
      "y": {"field": "v", "type": "quantitative", "scale": {"domain": [0.9417, 1.1903], "nice": false, "zero": false}, "axis": null},
      "text": {"field": "label"}
    }
  }
],
"resolve": {"axis": {"y": "independent"}}
}
